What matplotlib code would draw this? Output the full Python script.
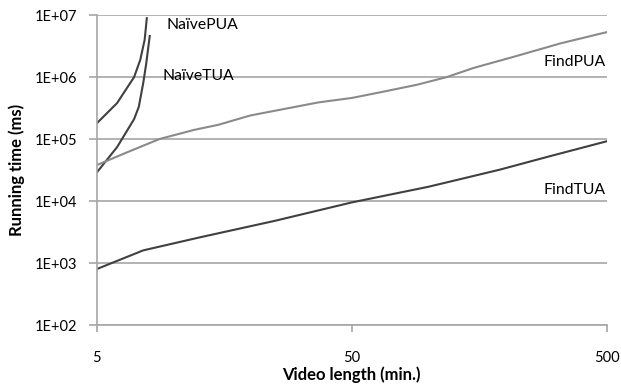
import matplotlib.pyplot as plt
from matplotlib.ticker import FixedLocator, NullLocator

plt.rcParams['font.family'] = ['Lato', 'DejaVu Sans']

# video length (min.) / running time (ms)
naive_pua_x = [5, 6.0, 7.0, 7.4, 7.7, 7.85]
naive_pua_y = [1.8e5, 3.8e5, 1.0e6, 1.9e6, 4.0e6, 8.9e6]

naive_tua_x = [5, 6.0, 7.0, 7.3, 7.6, 7.8, 8.06]
naive_tua_y = [2.9e4, 7.4e4, 2.1e5, 3.3e5, 8.0e5, 1.6e6, 4.6e6]

find_pua_x = [5, 6.5, 8.8, 12, 15, 20, 37, 50, 65, 90, 118, 150, 214, 330, 500]
find_pua_y = [3.8e4, 6.0e4, 1.0e5, 1.4e5, 1.7e5, 2.4e5, 3.9e5, 4.6e5, 5.7e5, 7.5e5,
              1.0e6, 1.4e6, 2.1e6, 3.5e6, 5.3e6]

find_tua_x = [5, 7.6, 12.7, 25, 50, 100, 190, 300, 500]
find_tua_y = [800, 1.6e3, 2.6e3, 4.8e3, 9.5e3, 1.7e4, 3.2e4, 5.3e4, 9.2e4]

dark = '#404040'
light = '#8a8a8a'

fig, ax = plt.subplots(figsize=(6.21, 3.86), dpi=100)
fig.subplots_adjust(left=0.156, right=0.977, top=0.961, bottom=0.158)

ax.plot(naive_pua_x, naive_pua_y, color=dark, lw=1.5)
ax.plot(naive_tua_x, naive_tua_y, color=dark, lw=1.5)
ax.plot(find_pua_x, find_pua_y, color=light, lw=1.5)
ax.plot(find_tua_x, find_tua_y, color=dark, lw=1.5)

ax.set_xscale('log')
ax.set_yscale('log')
ax.set_xlim(5, 500)
ax.set_ylim(1e2, 1e7)

yt = [1e2, 1e3, 1e4, 1e5, 1e6, 1e7]
ax.yaxis.set_major_locator(FixedLocator(yt))
ax.yaxis.set_minor_locator(NullLocator())
ax.set_yticklabels(['1E+02', '1E+03', '1E+04', '1E+05', '1E+06', '1E+07'])
ax.xaxis.set_major_locator(FixedLocator([5, 50, 500]))
ax.xaxis.set_minor_locator(NullLocator())
ax.set_xticklabels(['5', '50', '500'])

ax.grid(axis='y', color='#a6a6a6', lw=1.2)
ax.set_axisbelow(True)
for s in ['top', 'right']:
    ax.spines[s].set_visible(False)
for s in ['left', 'bottom']:
    ax.spines[s].set_color('#a6a6a6')
    ax.spines[s].set_linewidth(1.2)
ax.tick_params(axis='y', length=6, width=1.2, color='#a6a6a6', labelsize=10.5, pad=8)
ax.tick_params(axis='x', length=5, width=1.2, color='#a6a6a6', labelsize=10.5, pad=14)

ax.set_xlabel('Video length (min.)', fontsize=12, fontweight='bold', labelpad=1)
ax.set_ylabel('Running time (ms)', fontsize=12, fontweight='bold', labelpad=7)

ax.text(9.4, 6.9e6, 'NaïvePUA', fontsize=11.3, va='center', ha='left')
ax.text(9.05, 1.04e6, 'NaïveTUA', fontsize=11.3, va='center', ha='left')
ax.text(495, 1.75e6, 'FindPUA', fontsize=11.3, va='center', ha='right')
ax.text(495, 1.5e4, 'FindTUA', fontsize=11.3, va='center', ha='right')

fig.savefig('out.png', dpi=100)
